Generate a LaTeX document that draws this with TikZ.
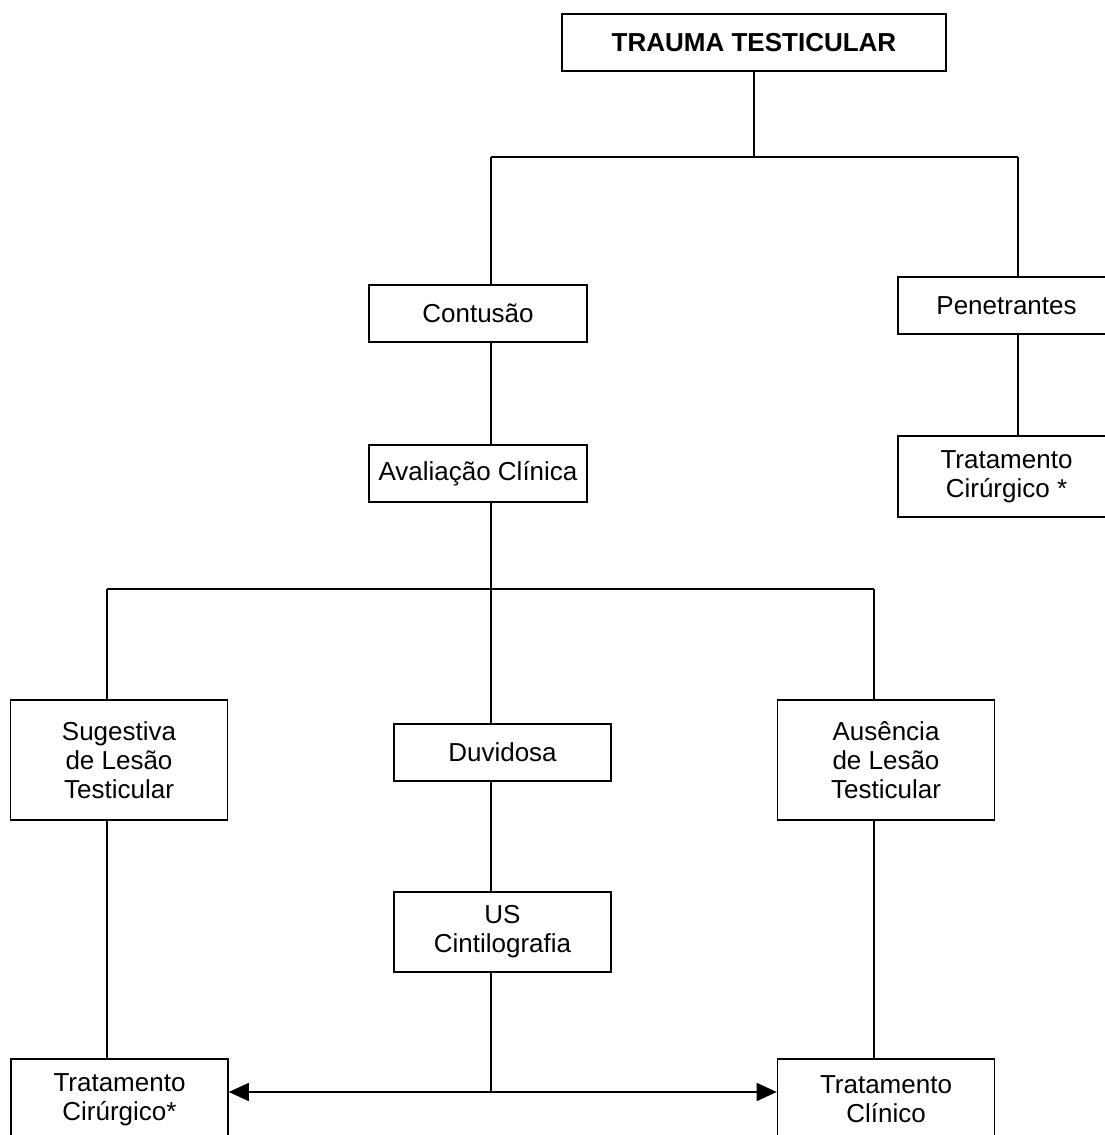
\documentclass[tikz,border=0pt]{standalone}
\usepackage{fontspec}
\setmainfont{Liberation Sans}
\usetikzlibrary{arrows.meta, positioning}
\tikzstyle{box}   = [draw, line width=0.8pt, rectangle, align=center, inner sep=0pt, minimum width=108.5pt, font=\fontsize{13}{14.4}\selectfont]
\tikzstyle{line}  = [line width=0.8pt]
\tikzstyle{arrow} = [line width=0.8pt, -{Triangle[length=10pt,width=9pt]}]

\begin{document}
\begin{tikzpicture}[x=0.5pt, y=-0.5pt]

\useasboundingbox (0,0) rectangle (1104,1135);

\node[box, minimum width=192pt, minimum height=28.5pt, font=\fontsize{13}{14.4}\selectfont\bfseries] (trauma) at (754,42.5) {TRAUMA TESTICULAR};

\node[box, minimum width=109pt, minimum height=28.5pt] (contusao) at (478,313.5) {Contusão};
\node[box, minimum height=28.5pt] (penetr) at (1006.5,305.5) {Penetrantes};

\node[box, minimum width=109pt, minimum height=28.5pt] (aval) at (478,473.5) {Avaliação Clínica};
\node[box, minimum height=40.5pt] (cirpen) at (1006.5,476.5) {Tratamento\\Cirúrgico *};

\node[box, minimum height=60pt] (sugest) at (119,760) {Sugestiva\\de Lesão\\Testicular};
\node[box, minimum height=28.5pt] (duvid) at (502.5,752.5) {Duvidosa};
\node[box, minimum height=60pt] (ausenc) at (886,760) {Ausência\\de Lesão\\Testicular};

\node[box, minimum height=40pt] (usc) at (502.5,932) {US\\Cintilografia};

\node[box, minimum height=40.5pt] (cirurg) at (119.5,1099.5) {Tratamento\\Cirúrgico*};
\node[box, minimum height=40.5pt] (clinic) at (886,1099.5) {Tratamento\\Clínico};

% junctions
\coordinate (jt) at (754,157);
\coordinate (jc) at (491,157);
\coordinate (jp) at (1018,157);
\coordinate (ja) at (491,589);
\coordinate (js) at (107,589);
\coordinate (jn) at (874,589);
\coordinate (jb) at (491,1092);

\draw[line] (trauma.south) -- (jt);
\draw[line] (jc) -- (jp);
\draw[line] (jc) -- (jc |- contusao.north);
\draw[line] (jp) -- (jp |- penetr.north);
\draw[line] (penetr.south -| jp) -- (cirpen.north -| jp);

\draw[line] (contusao.south -| jc) -- (aval.north -| jc);
\draw[line] (aval.south -| ja) -- (ja);
\draw[line] (js) -- (jn);
\draw[line] (js) -- (js |- sugest.north);
\draw[line] (ja) -- (duvid.north -| ja);
\draw[line] (jn) -- (jn |- ausenc.north);

\draw[line] (duvid.south -| ja) -- (usc.north -| ja);
\draw[line] (usc.south -| jb) -- (jb);
\draw[line] (sugest.south -| js) -- (cirurg.north -| js);
\draw[line] (ausenc.south -| jn) -- (clinic.north -| jn);

\draw[arrow] (jb) -- (jb -| cirurg.east);
\draw[arrow] (jb) -- (jb -| clinic.west);

\end{tikzpicture}
\end{document}
